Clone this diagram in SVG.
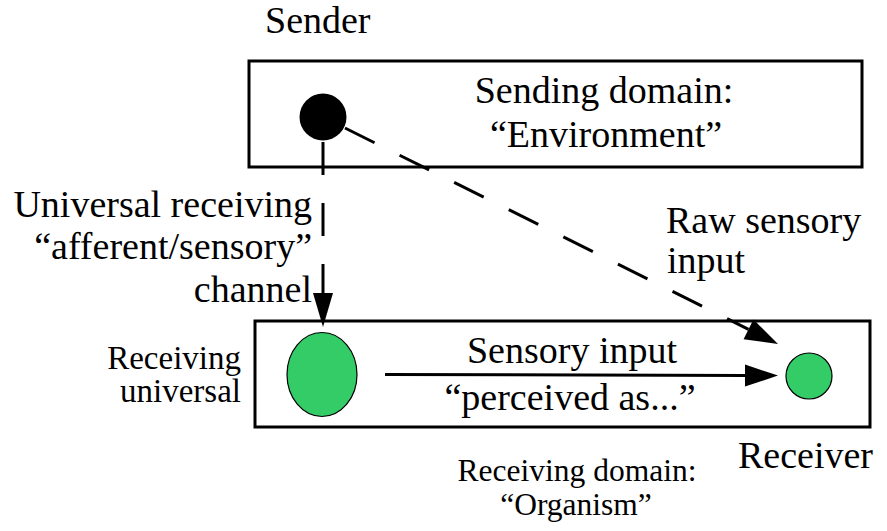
<svg xmlns="http://www.w3.org/2000/svg" width="887" height="531" viewBox="0 0 887 531">
<style>
text{font-family:"Liberation Serif",Tinos,"Times New Roman","Nimbus Roman","DejaVu Serif",serif;fill:#000}
.big{font-size:38px}
.small{font-size:33px}
.dom{font-size:31.5px}
.box{fill:none;stroke:#000;stroke-width:3}
.green{fill:#33CC66;stroke:#000;stroke-width:1.2}
.conn{stroke:#000;stroke-width:3;fill:none}
.dash{stroke-dasharray:33 28}
</style>
<defs>
<marker id="head" markerUnits="userSpaceOnUse" markerWidth="34" markerHeight="24" refX="0" refY="11" orient="auto" overflow="visible">
<path d="M0,0 L33,11 L0,22 Z" fill="#000"/>
</marker>
<marker id="headN" markerUnits="userSpaceOnUse" markerWidth="34" markerHeight="22" refX="0" refY="10" orient="auto" overflow="visible">
<path d="M0,0 L34,10 L0,20 Z" fill="#000"/>
</marker>
</defs>
<rect width="887" height="531" fill="#fff"/>

<g id="sending-domain">
<rect class="box" x="249" y="61" width="613" height="106"/>
<text class="big" x="604" y="103" text-anchor="middle" font-family="Liberation Serif, serif">Sending domain:</text>
<text class="big" x="606" y="147" text-anchor="middle" font-family="Liberation Serif, serif">“Environment”</text>
</g>

<g id="receiving-domain">
<rect class="box" x="255" y="321" width="615" height="106"/>
<text class="dom" x="577" y="481" text-anchor="middle" font-family="Liberation Serif, serif">Receiving domain:</text>
<text class="dom" x="576" y="515" text-anchor="middle" font-family="Liberation Serif, serif">“Organism”</text>
</g>

<g id="sender">
<circle cx="323" cy="117" r="23.5" fill="#000"/>
<text class="big" x="265" y="33" font-family="Liberation Serif, serif">Sender</text>
</g>

<g id="receiving-universal">
<ellipse class="green" cx="322" cy="374.5" rx="35" ry="42"/>
<text class="small" x="241" y="369" text-anchor="end" font-family="Liberation Serif, serif">Receiving</text>
<text class="small" x="241" y="402" text-anchor="end" font-family="Liberation Serif, serif">universal</text>
</g>

<g id="receiver">
<circle class="green" cx="809" cy="376" r="23"/>
<text class="big" x="738" y="468" font-family="Liberation Serif, serif">Receiver</text>
</g>

<g id="connectors">
<line class="conn dash" x1="323" y1="142" x2="323" y2="293" marker-end="url(#headN)"/>
<line class="conn dash" x1="345" y1="128" x2="748.5" y2="329.3" marker-end="url(#head)"/>
<line class="conn" x1="385" y1="374.5" x2="745" y2="375.5" marker-end="url(#head)"/>
<text class="big" x="312" y="217" text-anchor="end" font-family="Liberation Serif, serif">Universal receiving</text>
<text class="big" x="312" y="259" text-anchor="end" font-family="Liberation Serif, serif">“afferent/sensory”</text>
<text class="big" x="312" y="302" text-anchor="end" font-family="Liberation Serif, serif">channel</text>
<text class="big" x="666" y="233" font-family="Liberation Serif, serif">Raw sensory</text>
<text class="big" x="667" y="273" font-family="Liberation Serif, serif">input</text>
<text class="big" x="572" y="363" text-anchor="middle" font-family="Liberation Serif, serif">Sensory input</text>
<text class="big" x="570" y="410" text-anchor="middle" font-family="Liberation Serif, serif">“perceived as...”</text>
</g>
</svg>
